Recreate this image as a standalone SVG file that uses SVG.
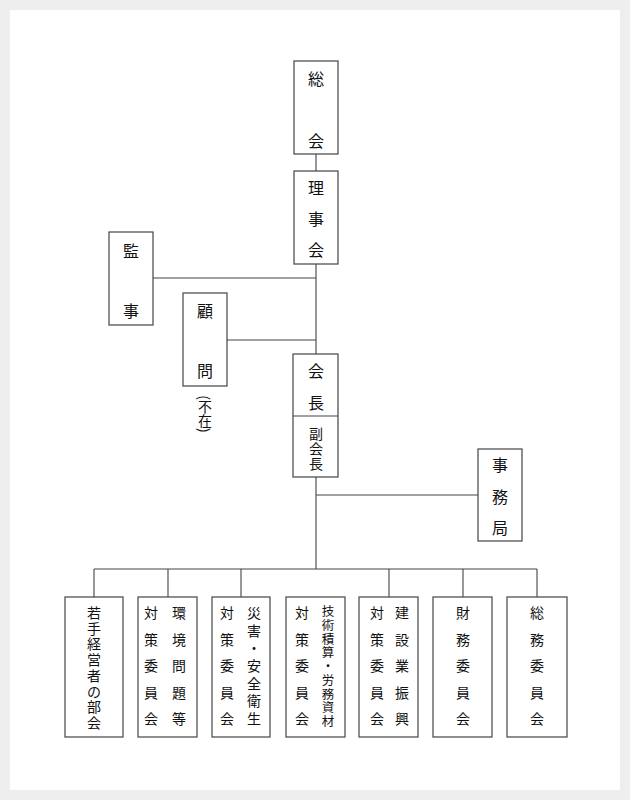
<svg xmlns="http://www.w3.org/2000/svg" width="630" height="800" viewBox="0 0 630 800">
<style>
.box{fill:#fff;stroke:#444;stroke-width:1.2}
.ln{stroke:#444;stroke-width:1.1;fill:none}
text{font-family:"Noto Sans CJK JP","Noto Sans CJK SC",sans-serif;fill:#111;text-anchor:middle;dominant-baseline:central}
.t{font-size:16px}
.m{font-size:14px}
.s{font-size:14px}
.xs{font-size:12.5px}
.v{font-size:14px;writing-mode:vertical-rl}
</style>
<rect x="0" y="0" width="630" height="800" fill="#eeeeee"/>
<rect x="10" y="10" width="610" height="780" fill="#ffffff"/>
<g id="connectors">
<path class="ln" d="M316 154V171M316 264V354M316 477V569M153 278H316M227 340H316M316 495H478M94 569H537M94 569V597M168 569V597M241 569V597M389 569V597M463 569V597M537 569V597"/>
</g>
<g id="soukai">
<rect class="box" x="294" y="61" width="44" height="93"/>
<text class="t"><tspan x="316" y="78">総</tspan><tspan x="316" y="140">会</tspan></text>
</g>
<g id="rijikai">
<rect class="box" x="294" y="171" width="44" height="93"/>
<text class="t"><tspan x="316" y="187">理</tspan><tspan x="316" y="218">事</tspan><tspan x="316" y="249">会</tspan></text>
</g>
<g id="kanji">
<rect class="box" x="109" y="232" width="44" height="93"/>
<text class="t"><tspan x="131" y="250">監</tspan><tspan x="131" y="310">事</tspan></text>
</g>
<g id="komon">
<rect class="box" x="183" y="293" width="44" height="93"/>
<text class="t"><tspan x="205" y="310">顧</tspan><tspan x="205" y="370">問</tspan></text>
<text class="v" x="205" y="414">(不在)</text>
</g>
<g id="kaicho">
<rect class="box" x="293" y="354" width="45" height="123"/>
<line class="ln" x1="293" y1="416" x2="338" y2="416"/>
<text class="t"><tspan x="316" y="370">会</tspan><tspan x="316" y="402">長</tspan></text>
<text class="m"><tspan x="316" y="433">副</tspan><tspan x="316" y="448">会</tspan><tspan x="316" y="463">長</tspan></text>
</g>
<g id="jimukyoku">
<rect class="box" x="478" y="449" width="44" height="92"/>
<text class="t"><tspan x="500" y="464">事</tspan><tspan x="500" y="496">務</tspan><tspan x="500" y="527">局</tspan></text>
</g>
<g id="wakate">
<rect class="box" x="65" y="597" width="58" height="140"/>
<text class="s"><tspan x="94" y="612">若</tspan><tspan x="94" y="627.7">手</tspan><tspan x="94" y="643.4">経</tspan><tspan x="94" y="659.1">営</tspan><tspan x="94" y="674.9">者</tspan><tspan x="94" y="690.6">の</tspan><tspan x="94" y="706.3">部</tspan><tspan x="94" y="722">会</tspan></text>
</g>
<g id="kankyo">
<rect class="box" x="138" y="597" width="59" height="140"/>
<text class="s"><tspan x="179" y="612">環</tspan><tspan x="179" y="639">境</tspan><tspan x="179" y="665">問</tspan><tspan x="179" y="692">題</tspan><tspan x="179" y="718">等</tspan></text>
<text class="s"><tspan x="151" y="612">対</tspan><tspan x="151" y="639">策</tspan><tspan x="151" y="665">委</tspan><tspan x="151" y="692">員</tspan><tspan x="151" y="718">会</tspan></text>
</g>
<g id="saigai">
<rect class="box" x="212" y="597" width="58" height="140"/>
<text class="s"><tspan x="254" y="612">災</tspan><tspan x="254" y="629.7">害</tspan><tspan x="254" y="647.3">・</tspan><tspan x="254" y="665">安</tspan><tspan x="254" y="682.7">全</tspan><tspan x="254" y="700.3">衛</tspan><tspan x="254" y="718">生</tspan></text>
<text class="s"><tspan x="227" y="612">対</tspan><tspan x="227" y="639">策</tspan><tspan x="227" y="665">委</tspan><tspan x="227" y="692">員</tspan><tspan x="227" y="718">会</tspan></text>
</g>
<g id="gijutsu">
<rect class="box" x="286" y="597" width="59" height="140"/>
<text class="xs"><tspan x="328" y="610">技</tspan><tspan x="328" y="623.75">術</tspan><tspan x="328" y="637.5">積</tspan><tspan x="328" y="651.25">算</tspan><tspan x="328" y="665">・</tspan><tspan x="328" y="678.75">労</tspan><tspan x="328" y="692.5">務</tspan><tspan x="328" y="706.25">資</tspan><tspan x="328" y="720">材</tspan></text>
<text class="s"><tspan x="302" y="612">対</tspan><tspan x="302" y="639">策</tspan><tspan x="302" y="665">委</tspan><tspan x="302" y="692">員</tspan><tspan x="302" y="718">会</tspan></text>
</g>
<g id="kensetsu">
<rect class="box" x="359" y="597" width="59" height="140"/>
<text class="s"><tspan x="402" y="612">建</tspan><tspan x="402" y="639">設</tspan><tspan x="402" y="665">業</tspan><tspan x="402" y="692">振</tspan><tspan x="402" y="718">興</tspan></text>
<text class="s"><tspan x="377" y="612">対</tspan><tspan x="377" y="639">策</tspan><tspan x="377" y="665">委</tspan><tspan x="377" y="692">員</tspan><tspan x="377" y="718">会</tspan></text>
</g>
<g id="zaimu">
<rect class="box" x="433" y="597" width="59" height="140"/>
<text class="s"><tspan x="463" y="612">財</tspan><tspan x="463" y="639">務</tspan><tspan x="463" y="665">委</tspan><tspan x="463" y="692">員</tspan><tspan x="463" y="718">会</tspan></text>
</g>
<g id="somu">
<rect class="box" x="507" y="597" width="60" height="140"/>
<text class="s"><tspan x="537" y="612">総</tspan><tspan x="537" y="639">務</tspan><tspan x="537" y="665">委</tspan><tspan x="537" y="692">員</tspan><tspan x="537" y="718">会</tspan></text>
</g>
</svg>
